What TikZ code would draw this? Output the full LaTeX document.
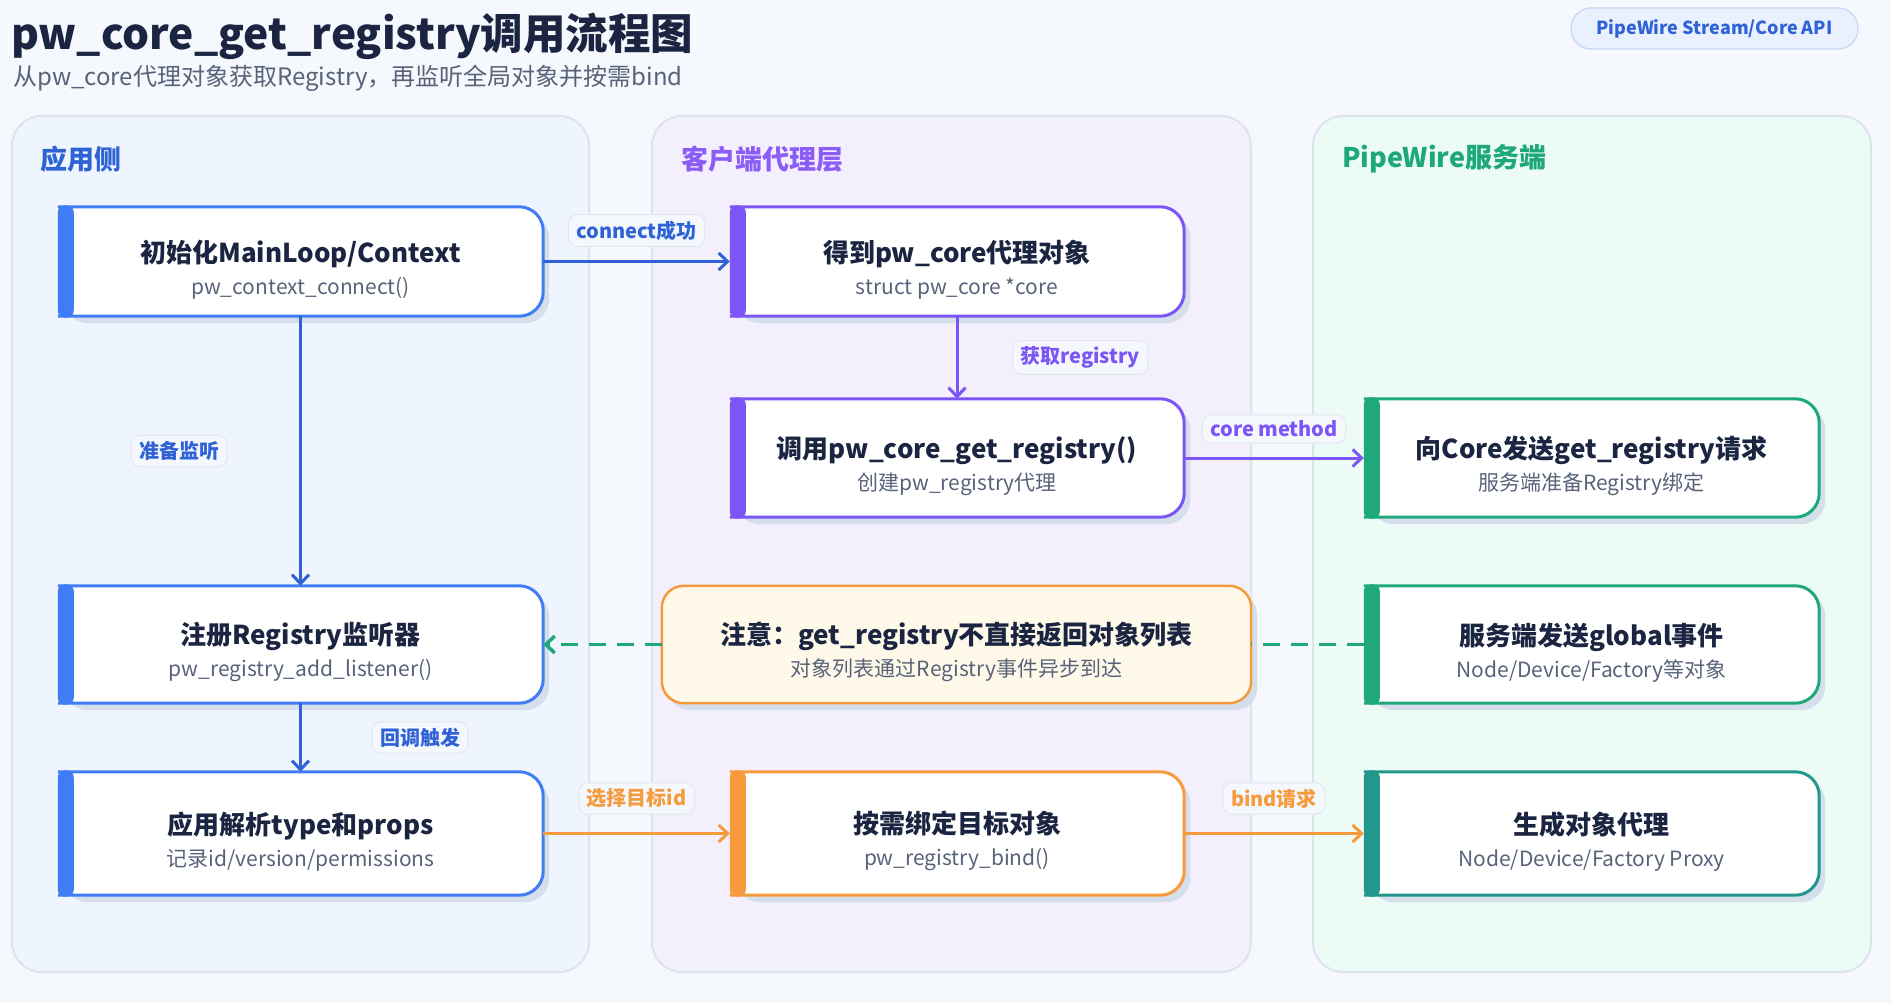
\documentclass[tikz,border=0pt]{standalone}
\usepackage{fontspec}
\setmainfont{Noto Sans CJK SC}
\usetikzlibrary{arrows.meta}
\pgfdeclarelayer{lanes}
\pgfdeclarelayer{cards}
\pgfsetlayers{lanes,cards,main}
\definecolor{bgc}{HTML}{F5F8FC}
\definecolor{laneborder}{HTML}{DCE4F0}
\definecolor{laneAc}{HTML}{EEF5FE}
\definecolor{laneBc}{HTML}{F3EFFD}
\definecolor{laneCc}{HTML}{ECFBF5}
\definecolor{cblue}{HTML}{3F7CF6}
\definecolor{ablue}{HTML}{2F62D6}
\definecolor{cpurple}{HTML}{7B55F5}
\definecolor{cgreen}{HTML}{1FA97A}
\definecolor{cteal}{HTML}{22978C}
\definecolor{corange}{HTML}{F59B3D}
\definecolor{notefill}{HTML}{FFF9EA}
\definecolor{shadowc}{HTML}{D5DEEB}
\definecolor{titlec}{HTML}{1B2541}
\definecolor{subc}{HTML}{58637A}
\definecolor{lblfill}{HTML}{F4F8FD}
\definecolor{lblborder}{HTML}{E1E8F1}
\definecolor{badgefill}{HTML}{EAF1FE}
\definecolor{badgeborder}{HTML}{C7D6F7}
\definecolor{ltA}{HTML}{2D63D4}
\definecolor{ltB}{HTML}{8B5CF6}
\definecolor{ltC}{HTML}{1DA977}
\newcommand\ctitle[1]{{\rule{0pt}{38pt}\fontsize{26}{32}\selectfont\bfseries\color{titlec}#1}}
\newcommand\drawcard[2]{%
  \begin{pgfonlayer}{cards}
    \fill[shadowc, rounded corners=24pt]
      ([shift={(6,7)}]#1.north west) -- ([shift={(6,7)}]#1.north east) --
      ([shift={(6,7)}]#1.south east) -- ([shift={(6,7)}]#1.south west) -- cycle;
    \filldraw[fill=white, draw=#2, line width=3pt, rounded corners=24pt]
      (#1.north west) -- (#1.north east) -- (#1.south east) -- (#1.south west);
    \fill[#2, rounded corners=7pt] ([yshift=1.5pt]#1.north west) rectangle ([shift={(16,1.5)}]#1.south west);
  \end{pgfonlayer}}
\tikzset{
  lane/.style={draw=laneborder, line width=2pt, rounded corners=30pt, inner sep=0pt},
  lanetitle/.style={anchor=west, inner sep=0pt, font=\fontsize{27}{32}\selectfont\bfseries},
  card/.style={align=center, inner sep=0pt, font=\fontsize{21}{32}\selectfont, text=subc},
  lbl/.style={fill=lblfill, draw=lblborder, line width=1pt, rounded corners=9pt,
    inner xsep=8pt, inner ysep=6pt, font=\fontsize{20}{24}\selectfont\bfseries},
  flow/.style={line width=3pt, -{Straight Barb[length=9pt,width=17pt]}},
  dashflow/.style={line width=3.5pt, draw=cgreen, dash pattern=on 17pt off 11pt},
}
\begin{document}
\begin{tikzpicture}[x=1pt,y=-1pt]
\begin{pgfonlayer}{lanes}
\fill[bgc] (0,0) rectangle (1891,1003);
\end{pgfonlayer}
\useasboundingbox (0,0) rectangle (1891,1003);

% header
\node[anchor=base west, inner sep=0pt, font=\fontsize{42.5}{50}\selectfont\bfseries, text=titlec] (title) at (11,50) {pw\_core\_get\_registry调用流程图};
\node[anchor=base west, inner sep=0pt, font=\fontsize{24}{28}\selectfont, text=subc] (subtitle) at (13,86) {从pw\_core代理对象获取Registry，再监听全局对象并按需bind};
\node[fill=badgefill, draw=badgeborder, line width=1.2pt, rounded corners=20pt, minimum width=287pt, minimum height=41pt, inner sep=0pt, font=\fontsize{18}{22}\selectfont\bfseries, text=ablue] (badge) at (1714.5,28.5) {PipeWire Stream/Core API};

% lanes
\begin{pgfonlayer}{lanes}
\node[lane, fill=laneAc, minimum width=577pt, minimum height=856pt] (laneA) at (300.5,544) {};
\node[lane, fill=laneBc, minimum width=599pt, minimum height=856pt] (laneB) at (951.5,544) {};
\node[lane, fill=laneCc, minimum width=558pt, minimum height=856pt] (laneC) at (1592,544) {};
\end{pgfonlayer}
\node[lanetitle, text=ltA] (ltA) at (40,159) {应用侧};
\node[lanetitle, text=ltB] (ltB) at (681,159) {客户端代理层};
\node[lanetitle, text=ltC] (ltC) at (1342,159) {PipeWire服务端};

% cards
\node[card, minimum width=485pt, minimum height=109pt] (A) at (300.5,261.5) {\ctitle{初始化MainLoop/Context}\\pw\_context\_connect()};
\node[card, minimum width=454pt, minimum height=109pt] (B) at (957,261.5) {\ctitle{得到pw\_core代理对象}\\struct pw\_core *core};
\node[card, minimum width=454pt, minimum height=118pt] (C) at (957,458) {\ctitle{调用pw\_core\_get\_registry()}\\创建pw\_registry代理};
\node[card, minimum width=455pt, minimum height=118pt] (D) at (1591.5,458) {\ctitle{向Core发送get\_registry请求}\\服务端准备Registry绑定};
\node[card, minimum width=485pt, minimum height=117pt] (E) at (300.5,644.5) {\ctitle{注册Registry监听器}\\pw\_registry\_add\_listener()};
\node[card, minimum width=589pt, minimum height=117pt] (F) at (956.5,644.5) {\ctitle{注意：get\_registry不直接返回对象列表}\\对象列表通过Registry事件异步到达};
\node[card, minimum width=455pt, minimum height=117pt] (G) at (1591.5,644.5) {\ctitle{服务端发送global事件}\\Node/Device/Factory等对象};
\node[card, minimum width=485pt, minimum height=123pt] (H) at (300.5,833.5) {\ctitle{应用解析type和props}\\记录id/version/permissions};
\node[card, minimum width=454pt, minimum height=123pt] (I) at (957,833.5) {\ctitle{按需绑定目标对象}\\pw\_registry\_bind()};
\node[card, minimum width=455pt, minimum height=123pt] (J) at (1591.5,833.5) {\ctitle{生成对象代理}\\Node/Device/Factory Proxy};

\drawcard{A}{cblue}
\drawcard{B}{cpurple}
\drawcard{C}{cpurple}
\drawcard{D}{cgreen}
\drawcard{E}{cblue}
\drawcard{G}{cgreen}
\drawcard{H}{cblue}
\drawcard{I}{corange}
\drawcard{J}{cteal}
\begin{pgfonlayer}{cards}
  \fill[shadowc, rounded corners=22pt] ([shift={(6,7)}]F.north west) rectangle ([shift={(6,7)}]F.south east);
  \filldraw[fill=notefill, draw=corange, line width=2.5pt, rounded corners=22pt] (F.north west) rectangle (F.south east);
\end{pgfonlayer}

% connectors
\draw[flow, ablue] (A.east) -- node[lbl, midway, yshift=31pt, text=ablue] (l1) {connect成功} (B.west);
\draw[flow, cpurple] (B.south) -- node[lbl, midway, anchor=west, xshift=55pt, text=cpurple] (l2) {获取registry} (C.north);
\draw[flow, cpurple] (C.east) -- node[lbl, midway, yshift=29pt, text=cpurple] (l3) {core method} (D.west);
\draw[flow, ablue] (A.south) -- node[lbl, midway, anchor=east, xshift=-73pt, text=ablue] (l4) {准备监听} (E.north);
\draw[dashflow] (G.west) -- (F.east);
\draw[dashflow, -{Straight Barb[length=9pt,width=17pt]}] (F.west) -- (E.east);
\draw[flow, ablue] (E.south) -- node[lbl, midway, anchor=west, xshift=71pt, text=ablue] (l5) {回调触发} (H.north);
\draw[flow, corange] (H.east) -- node[lbl, midway, yshift=35pt, text=corange] (l6) {选择目标id} (I.west);
\draw[flow, corange] (I.east) -- node[lbl, midway, yshift=35pt, text=corange] (l7) {bind请求} (J.west);
\end{tikzpicture}
\end{document}
